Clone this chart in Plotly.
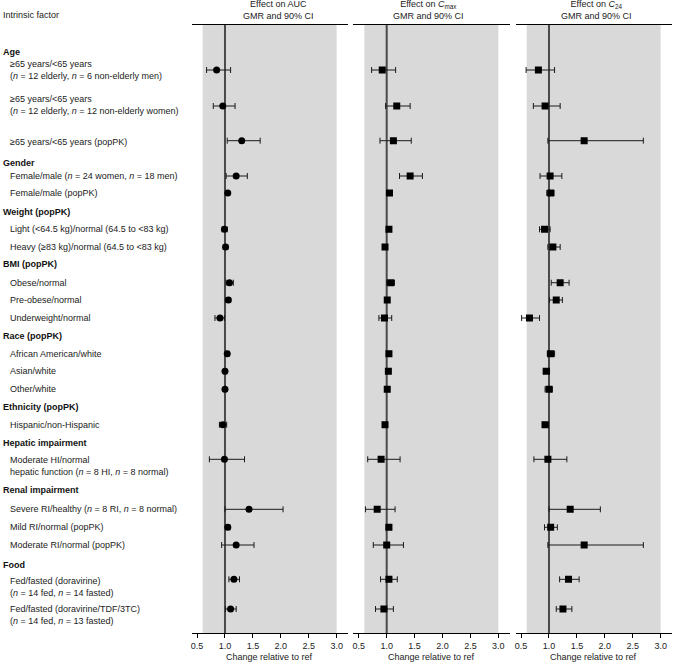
import plotly.graph_objects as go

# ---------------- data ----------------
group_names = ["Age", "Gender", "Weight (popPK)", "BMI (popPK)", "Race (popPK)",
               "Ethnicity (popPK)", "Hepatic impairment", "Renal impairment", "Food"]
group_pos = [27, 138, 187, 239, 311, 382, 418, 465, 540]

row_labels = [
    "≥65 years/&lt;65 years<br>(<i>n</i> = 12 elderly, <i>n</i> = 6 non-elderly men)",
    "≥65 years/&lt;65 years<br>(<i>n</i> = 12 elderly, <i>n</i> = 12 non-elderly women)",
    "≥65 years/&lt;65 years (popPK)",
    "Female/male (<i>n</i> = 24 women, <i>n</i> = 18 men)",
    "Female/male (popPK)",
    "Light (&lt;64.5 kg)/normal (64.5 to &lt;83 kg)",
    "Heavy (≥83 kg)/normal (64.5 to &lt;83 kg)",
    "Obese/normal",
    "Pre-obese/normal",
    "Underweight/normal",
    "African American/white",
    "Asian/white",
    "Other/white",
    "Hispanic/non-Hispanic",
    "Moderate HI/normal<br>hepatic function (<i>n</i> = 8 HI, <i>n</i> = 8 normal)",
    "Severe RI/healthy (<i>n</i> = 8 RI, <i>n</i> = 8 normal)",
    "Mild RI/normal (popPK)",
    "Moderate RI/normal (popPK)",
    "Fed/fasted (doravirine)<br>(<i>n</i> = 14 fed, <i>n</i> = 14 fasted)",
    "Fed/fasted (doravirine/TDF/3TC)<br>(<i>n</i> = 14 fed, <i>n</i> = 13 fasted)",
]
point_pos = [45, 81, 115.7, 151, 168, 204.3, 222, 257.7, 275, 293, 328.7, 346.3,
             364.3, 399.7, 434.3, 484.3, 502.3, 520, 554.3, 584]
label_pos = [44.5, 80, 117, 151, 168, 204.3, 222, 257.7, 275, 293, 328.7, 346.3,
             364.3, 399.7, 440.5, 484.3, 502.3, 520, 562, 589.5]

auc_gmr = [0.85, 0.96, 1.30, 1.20, 1.05, 0.99, 1.01, 1.08, 1.06, 0.91, 1.04, 1.00, 1.00, 0.96, 0.99, 1.43, 1.05, 1.20, 1.16, 1.10]
auc_lo  = [0.67, 0.79, 1.04, 1.02, 1.02, 0.95, 0.97, 1.02, 1.02, 0.82, 1.02, 0.98, 0.98, 0.90, 0.72, 1.00, 1.02, 0.94, 1.07, 1.01]
auc_hi  = [1.10, 1.18, 1.63, 1.40, 1.08, 1.04, 1.05, 1.15, 1.10, 0.99, 1.07, 1.03, 1.02, 1.03, 1.35, 2.04, 1.09, 1.52, 1.26, 1.20]

cmax_gmr = [0.92, 1.18, 1.12, 1.42, 1.05, 1.04, 0.97, 1.07, 1.01, 0.96, 1.04, 1.03, 1.01, 0.97, 0.90, 0.83, 1.04, 1.00, 1.04, 0.95]
cmax_lo  = [0.73, 0.98, 0.88, 1.23, 1.02, 1.00, 0.94, 1.00, 0.98, 0.86, 1.01, 1.01, 0.99, 0.95, 0.66, 0.62, 0.99, 0.76, 0.89, 0.80]
cmax_hi  = [1.16, 1.42, 1.44, 1.64, 1.08, 1.07, 1.01, 1.14, 1.04, 1.09, 1.06, 1.05, 1.04, 1.00, 1.24, 1.15, 1.08, 1.30, 1.19, 1.12]

c24_gmr = [0.81, 0.93, 1.63, 1.02, 1.03, 0.92, 1.07, 1.20, 1.13, 0.65, 1.03, 0.95, 1.00, 0.93, 0.98, 1.38, 1.03, 1.63, 1.35, 1.25]
c24_lo  = [0.59, 0.72, 0.98, 0.84, 0.96, 0.83, 0.98, 1.04, 1.01, 0.51, 0.97, 0.90, 0.93, 0.88, 0.73, 1.00, 0.92, 0.98, 1.19, 1.13]
c24_hi  = [1.10, 1.20, 2.69, 1.23, 1.09, 1.02, 1.20, 1.36, 1.24, 0.83, 1.10, 1.01, 1.06, 0.99, 1.32, 1.92, 1.15, 2.69, 1.54, 1.41]

panel_titles = ["Effect on AUC<br>GMR and 90% CI",
                "Effect on <i>C</i><sub>max</sub><br>GMR and 90% CI",
                "Effect on <i>C</i><sub>24</sub><br>GMR and 90% CI"]
axis_title = "Change relative to ref"
tick_vals = [0.5, 1.0, 1.5, 2.0, 2.5, 3.0]
tick_text = ["0.5", "1.0", "1.5", "2.0", "2.5", "3.0"]

# ---------------- figure ----------------
W, H = 673, 665
FONT = "Liberation Sans, Arial, sans-serif"
domains = [[191.5 / W, 347.8 / W], [353.2 / W, 509.5 / W], [515.5 / W, 671.8 / W]]
title_x = [278 / W, 429 / W, 596 / W]
series = [(auc_gmr, auc_lo, auc_hi, "circle"),
          (cmax_gmr, cmax_lo, cmax_hi, "square"),
          (c24_gmr, c24_lo, c24_hi, "square")]

fig = go.Figure()
shapes = []
annotations = []
layout_axes = {}
for i, (g, lo, hi, sym) in enumerate(series):
    xname = "x" if i == 0 else f"x{i+1}"
    fig.add_trace(go.Scatter(
        x=g, y=point_pos, mode="markers", xaxis=xname, yaxis="y",
        marker=dict(symbol=sym, size=7, color="black"),
        error_x=dict(type="data", symmetric=False,
                     array=[h - v for h, v in zip(hi, g)],
                     arrayminus=[v - l for l, v in zip(lo, g)],
                     color="#1a1a1a", thickness=1, width=3),
        showlegend=False, hoverinfo="skip"))
    key = "xaxis" if i == 0 else f"xaxis{i+1}"
    layout_axes[key] = dict(
        domain=domains[i], anchor="y", range=[0.4, 3.2], automargin=False,
        tickvals=tick_vals, ticktext=tick_text, ticks="outside", ticklen=4,
        tickcolor="black", showgrid=False, zeroline=False,
        showline=True, mirror=True, linecolor="black", linewidth=1,
        tickfont=dict(size=9, color="#222", family=FONT))
    shapes.append(dict(type="rect", xref=xname, yref="paper", x0=0.6, x1=3.0, y0=0, y1=1,
                       fillcolor="#d9d9d9", line=dict(width=0), layer="below"))
    shapes.append(dict(type="line", xref=xname, yref="paper", x0=1.0, x1=1.0, y0=0, y1=1,
                       line=dict(color="#4a4a4a", width=2), layer="below"))
    annotations.append(dict(text=panel_titles[i], xref="paper", yref="paper",
                            x=title_x[i], y=1.0, yshift=2, xanchor="center", yanchor="bottom",
                            showarrow=False, align="center",
                            font=dict(size=9, color="#222", family=FONT)))
    annotations.append(dict(text=axis_title, xref="paper", yref="paper",
                            x=sum(domains[i]) / 2, y=0, yshift=-17, xanchor="center",
                            yanchor="top", showarrow=False,
                            font=dict(size=9, color="#222", family=FONT)))

annotations.append(dict(text="Intrinsic factor", xref="paper", yref="paper", x=1 / W, y=1.0,
                        yshift=3, xanchor="left", yanchor="bottom", showarrow=False,
                        font=dict(size=9, color="#222", family=FONT)))
for name, yv in zip(group_names, group_pos):
    annotations.append(dict(text=f"<b>{name}</b>", xref="paper", yref="y", x=1 / W, y=yv,
                            xanchor="left", yanchor="middle", showarrow=False,
                            font=dict(size=9, color="#111", family=FONT)))
for lab, yv in zip(row_labels, label_pos):
    annotations.append(dict(text=lab, xref="paper", yref="y", x=8 / W, y=yv,
                            xanchor="left", yanchor="middle", showarrow=False, align="left",
                            font=dict(size=9, color="#222", family=FONT)))

fig.update_layout(
    width=W, height=H, margin=dict(l=0, r=0, t=25, b=32, autoexpand=False),
    plot_bgcolor="white", paper_bgcolor="white",
    yaxis=dict(range=[608, 0], visible=False, domain=[0, 1], automargin=False),
    shapes=shapes, annotations=annotations, **layout_axes)

fig.write_html("out.html", config={"displayModeBar": False},
               post_script="document.body.style.margin='0';document.body.style.overflow='hidden';")
